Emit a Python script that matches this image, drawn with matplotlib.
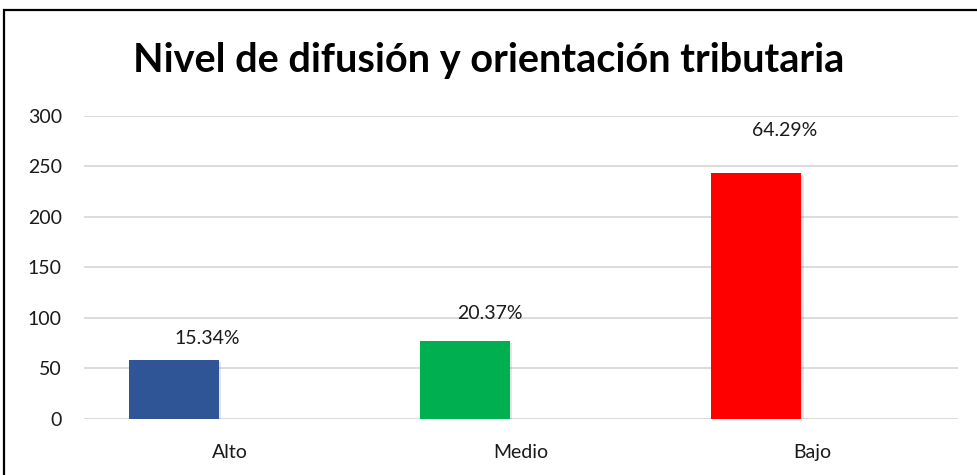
import matplotlib.pyplot as plt
from matplotlib.patches import Rectangle
import matplotlib.patheffects as pe

categories = ['Alto', 'Medio', 'Bajo']
counts = [58, 77, 243]
pct_labels = ['15.34%', '20.37%', '64.29%']
colors = ['#2F5597', '#00B050', '#FF0000']
# label offsets in points (x, y) from bar top centre
label_offsets = [(24, 16), (18, 20), (20, 31)]

plt.rcParams['font.family'] = ['Lato', 'DejaVu Sans']

fig = plt.figure(figsize=(9.77, 4.75), dpi=100)
ax = fig.add_axes([0.086, 0.118, 0.8946, 0.638])

xs = list(range(len(categories)))
bar_x = [x - 0.192 for x in xs]
bars = ax.bar(bar_x, counts, width=0.309, color=colors, zorder=3)
for b in bars:
    b.set_path_effects([pe.SimplePatchShadow(offset=(1.5, -1.5), alpha=0.2, shadow_rgbFace='gray'), pe.Normal()])

for bx, c, lab, off in zip(bar_x, counts, pct_labels, label_offsets):
    ax.annotate(lab, (bx, c), xytext=off, textcoords='offset points',
                ha='center', va='center', fontsize=14, color='#1a1a1a')

ax.set_xlim(-0.5, 2.5)
ax.set_ylim(0, 300)
ax.set_yticks(range(0, 301, 50))
ax.set_xticks(xs)
ax.set_xticklabels(categories)
ax.grid(axis='y', color='#d9d9d9', linewidth=1.3, zorder=0)
ax.set_axisbelow(True)
for s in ax.spines.values():
    s.set_visible(False)
ax.tick_params(axis='both', length=0, labelsize=14, colors='#1a1a1a')
ax.tick_params(axis='y', pad=16)
ax.tick_params(axis='x', pad=18)

fig.text(0.5, 0.873, 'Nivel de difusión y orientación tributaria', ha='center', va='center',
         fontsize=28.5, fontweight='bold', color='black')

fig.patches.append(Rectangle((4 / 977, -0.1), 1.1, 1 - 10 / 475 + 0.1, transform=fig.transFigure,
                             fill=False, edgecolor='black', linewidth=1.6))

fig.savefig('out.png', dpi=100, facecolor='white')
